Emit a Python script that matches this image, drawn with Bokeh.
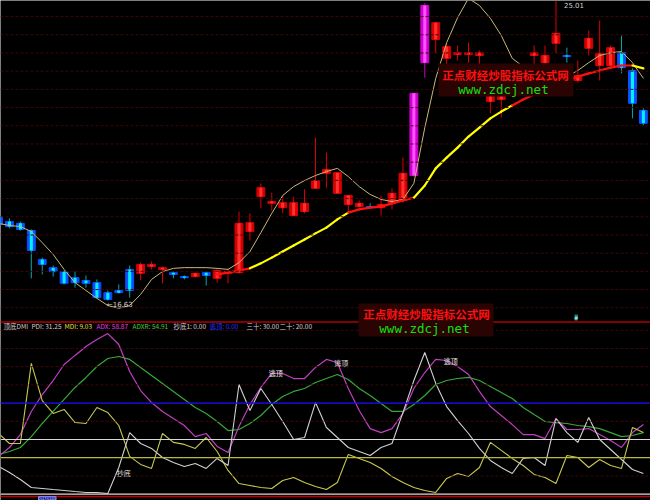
import numpy as np
from bokeh.plotting import figure
from bokeh.models import Range1d, Span, Label, BoxAnnotation
from bokeh.core.properties import value
from bokeh.embed import file_html
from bokeh.resources import INLINE

# ---- daily prices ----
open_ = [18.98, 18.84, 18.79, 18.59, 17.78, 17.55, 17.44, 17.27, 17.19, 17.13,
         16.85, 16.91, 17.50, 17.39, 17.58, 17.50, 17.41, 17.30, 17.30, 17.41,
         17.25, 17.39, 17.41, 18.56, 19.54, 19.35, 19.23, 19.01, 19.12, 19.77,
         20.19, 19.63, 19.32, 19.26, 19.26, 19.23, 19.35, 19.43, 20.13, 23.29,
         23.94, 23.41, 23.52, 23.52, 23.49, 22.20, 22.26, 22.51, 22.79, 23.49,
         23.29, 23.83, 23.49, 22.79, 23.69, 23.21, 23.21, 23.57, 23.07, 21.95]
close_ = [18.76, 18.70, 18.62, 18.03, 17.64, 17.44, 17.11, 17.13, 17.11, 16.71,
          16.66, 16.85, 16.91, 17.64, 17.64, 17.55, 17.36, 17.27, 17.39, 17.33,
          17.47, 17.44, 18.79, 18.81, 19.79, 19.40, 19.37, 19.37, 19.35, 19.99,
          20.30, 20.21, 19.57, 19.35, 19.23, 19.32, 19.63, 20.19, 22.43, 24.89,
          24.41, 23.74, 23.57, 23.57, 23.57, 22.37, 22.37, 22.65, 23.01, 23.57,
          23.49, 24.11, 23.46, 22.93, 23.97, 23.55, 23.71, 23.15, 22.15, 21.59]
high_ = [19.07, 18.93, 18.84, 18.62, 17.83, 17.61, 17.47, 17.44, 17.33, 17.22,
         16.91, 17.08, 17.61, 17.69, 17.72, 17.58, 17.44, 17.33, 17.41, 17.44,
         17.53, 17.53, 19.12, 19.07, 19.91, 19.65, 19.57, 19.54, 19.74, 21.19,
         20.77, 20.21, 19.57, 19.43, 19.35, 19.57, 19.77, 20.63, 22.43, 24.95,
         24.44, 23.83, 23.77, 23.85, 23.63, 22.57, 22.51, 22.79, 23.21, 23.77,
         23.77, 25.01, 23.71, 23.35, 24.19, 24.47, 23.77, 24.05, 23.13, 22.01]
low_ = [18.67, 18.65, 18.59, 17.25, 17.36, 17.30, 17.08, 16.99, 16.99, 16.69,
        16.63, 16.83, 16.71, 17.19, 17.50, 17.11, 17.25, 17.22, 17.27, 17.05,
        17.13, 17.11, 17.39, 18.31, 19.21, 19.15, 19.07, 19.01, 19.07, 19.77,
        19.79, 19.63, 19.09, 19.23, 19.21, 19.01, 19.18, 19.37, 20.10, 22.87,
        23.55, 23.07, 23.35, 23.29, 23.21, 21.87, 21.75, 22.37, 22.65, 23.07,
        23.13, 23.55, 23.29, 22.73, 23.49, 22.79, 23.15, 22.99, 21.73, 21.53]

# fast average (thin line)
ma_fast = [18.79, 18.73, 18.70, 18.56, 18.25, 17.92, 17.50, 17.13, 16.91, 16.69,
           16.49, 16.41, 16.49, 16.80, 17.22, 17.44, 17.53, 17.55, 17.55, 17.55,
           17.53, 17.50, 17.69, 18.00, 18.53, 19.07, 19.57, 19.82, 19.99, 20.13,
           20.24, 20.33, 20.10, 19.82, 19.60, 19.46, 19.40, 19.46, 19.91, 21.47,
           22.85, 23.85, 24.55, 25.09, 24.89, 24.53, 24.05, 23.41, 23.18, 22.96,
           22.85, 22.82, 22.90, 23.07, 23.29, 23.49, 23.57, 23.60, 23.29, 22.85]

nan = float("nan")
# slow average (thick line) and its state (1 = red stretch)
ma_slow = [nan] * 20 + [
    17.36, 17.41, 17.47, 17.53, 17.67, 17.83, 18.00, 18.17, 18.34, 18.51,
    18.67, 18.90, 19.09, 19.18, 19.23, 19.26, 19.35, 19.43, 19.51, 19.85,
    20.33, 20.63, 20.91, 21.22, 21.47, 21.73, 21.92, 22.09, 22.26, 22.40,
    22.54, 22.65, 22.79, 22.90, 22.99, 23.07, 23.15, 23.21, 23.21, 23.13]
slow_hot = [0] * 21 + [1, 1, 1] + [0] * 9 + [1] * 6 + [0] * 9 + [1] * 11 + [0]

# ---- 顶底DMI ----
pdi = [15.2, 11.9, 8.0, 3.6, 3.1, 2.5, 2.0, 1.4, 0.9, 0.9,
       0.3, 14.6, 33.8, 27.8, 25.1, 20.1, 17.4, 15.2, 16.8, 14.1,
       19.6, 15.7, 60.2, 45.9, 58.0, 49.2, 39.9, 30.0, 31.1, 50.3,
       36.6, 31.1, 25.6, 23.4, 21.2, 25.6, 27.8, 44.8, 62.4, 77.8,
       60.8, 48.1, 40.4, 33.3, 25.1, 18.5, 14.6, 11.3, 19.6, 20.1,
       15.7, 41.5, 33.8, 28.4, 42.1, 30.0, 24.5, 19.0, 13.5, 11.3]
mdi = [33.3, 27.8, 27.8, 71.8, 51.4, 44.3, 46.5, 39.3, 38.8, 47.6,
       44.8, 37.7, 20.7, 16.3, 14.1, 33.3, 28.4, 27.3, 25.1, 31.1,
       23.4, 13.0, 5.8, 4.7, 3.6, 3.1, 7.5, 9.1, 6.4, 4.2,
       2.5, 6.4, 21.8, 19.6, 17.4, 14.1, 9.7, 6.4, 3.6, 2.0,
       0.9, 8.6, 11.3, 9.7, 14.6, 28.4, 24.0, 19.6, 15.7, 10.8,
       9.1, 5.8, 21.2, 20.1, 14.6, 19.0, 15.7, 14.1, 36.6, 33.8]
adx = [20.7, 25.6, 32.7, 45.4, 54.7, 62.4, 71.2, 76.2, 81.1, 84.9,
       88.2, 82.2, 67.4, 56.9, 50.3, 45.4, 41.5, 37.7, 31.6, 33.3,
       26.2, 22.9, 37.1, 49.2, 58.6, 66.3, 66.3, 63.5, 63.5, 69.6,
       74.0, 72.3, 58.0, 45.9, 36.0, 33.8, 36.0, 44.3, 58.0, 66.8,
       74.0, 73.4, 70.1, 65.7, 56.4, 48.1, 43.2, 38.2, 32.7, 32.7,
       30.5, 41.5, 35.5, 35.5, 36.0, 32.7, 29.5, 25.6, 33.8, 38.2]
adxr = [21.8, 23.4, 25.6, 31.6, 38.8, 45.4, 52.0, 58.6, 64.1, 70.1,
        74.5, 75.6, 74.0, 69.6, 65.2, 60.8, 56.4, 52.0, 47.6, 44.3,
        39.9, 34.9, 35.5, 38.8, 43.2, 49.2, 53.6, 56.4, 58.0, 61.3,
        63.5, 65.7, 63.0, 58.0, 54.2, 49.8, 45.4, 45.4, 49.2, 54.2,
        60.2, 62.4, 63.5, 64.1, 62.4, 59.1, 55.8, 52.5, 47.6, 43.7,
        39.9, 39.3, 38.8, 37.7, 37.1, 36.0, 33.8, 31.6, 32.2, 33.8]
top_signals = [25, 31, 41]      # 逃顶
bottom_signals = [11]           # 抄底
ref_levels = {"blue": 50, "white": 30, "yellow": 20, "zero": 0}

legend_parts = [
    ("顶底DMI", "#d0d0d0"), ("PDI: 31.25", "#d0d0d0"), ("MDI: 9.03", "#e0e040"),
    ("ADX: 58.87", "#e040e0"), ("ADXR: 54.91", "#40d040"), ("抄底1: 0.00", "#d0d0d0"),
    ("逃顶: 0.00", "#2030ff"), ("三十: 30.00", "#d0d0d0"), ("二十: 20.00", "#d0d0d0"),
]
legend_x = [3, 31, 64, 96, 132, 173, 209, 246, 279]

# ---- figure ----
o = np.array(open_); c = np.array(close_); h = np.array(high_); l = np.array(low_)
idx = np.arange(len(c))
prev = np.concatenate([[o[0]], c[:-1]])
pct = c / prev - 1
kind = np.where(pct >= 0.095, "limit", np.where(c >= o, "up", "down"))
outer = {"up": "#d80000", "down": "#0a50ff", "limit": "#d000d0"}
inner = {"up": "#ff3030", "down": "#00f0ff", "limit": "#ff50ff"}
wick = {"up": "#e00000", "down": "#00a8a8", "limit": "#d000d0"}

p = figure(width=650, height=500, x_range=Range1d(0.18, 59.65),
           y_range=Range1d(11.03, 25.03), x_axis_location=None, y_axis_location=None,
           toolbar_location=None, output_backend="svg", min_border=0,
           background_fill_color="black", border_fill_color="black",
           outline_line_color=None)
p.extra_y_ranges = {"ind": Range1d(-3.52, 271.21)}
p.xgrid.visible = False
p.ygrid.visible = False

grid_col = "#3e0606"
for k in range(17):
    p.add_layout(Span(location=24.58 - 0.5096 * k, dimension="width",
                      line_color=grid_col, line_width=1, line_dash="3 2"))
for v in range(10, 100, 10):
    p.add_layout(Span(location=v, dimension="width", y_range_name="ind",
                      line_color=grid_col, line_width=1, line_dash="3 2"))

# candles
top = np.maximum(o, c); bot = np.minimum(o, c)
p.segment(x0=idx, y0=l, x1=idx, y1=h, color=[wick[k] for k in kind], line_width=1)
p.vbar(x=idx, width=0.72, top=top, bottom=bot,
       fill_color=[outer[k] for k in kind], line_color=[outer[k] for k in kind], line_width=1)
p.vbar(x=idx, width=0.28, top=top, bottom=bot,
       fill_color=[inner[k] for k in kind], line_color=None)

# averages
p.line(idx, ma_fast, color="#c8b878", line_width=1)
ms = np.array(ma_slow)
seg = [i for i in range(1, len(ms)) if not np.isnan(ms[i - 1])]
p.segment(x0=[i - 1 for i in seg], y0=[ms[i - 1] for i in seg], x1=seg, y1=[ms[i] for i in seg],
          color=["#ff1010" if slow_hot[i] else "#ffff00" for i in seg],
          line_width=2.2, line_cap="round")

# extreme price labels
imin = int(np.argmin(l)); imax = int(np.argmax(h))
p.text(x=[imin], y=[l[imin]], text=["←%.2f" % l[imin]], text_color="#d0d0d0",
       text_font=value("DejaVu Sans"), text_font_size="7px", text_align="left",
       text_baseline="middle", x_offset=-1, y_offset=4)
p.text(x=[imax], y=[h[imax]], text=["%.2f" % h[imax]], text_color="#d0d0d0",
       text_font=value("DejaVu Sans"), text_font_size="7px", text_align="left",
       text_baseline="top", x_offset=8, y_offset=1)

# indicator panel
p.add_layout(Span(location=94.6, dimension="width", y_range_name="ind",
                  line_color="#b00000", line_width=1.5))
p.add_layout(Span(location=-1.3, dimension="width", y_range_name="ind",
                  line_color="#c00000", line_width=1.5))
p.add_layout(Span(location=ref_levels["blue"], dimension="width", y_range_name="ind",
                  line_color="#1010ff", line_width=1.2))
p.add_layout(Span(location=ref_levels["white"], dimension="width", y_range_name="ind",
                  line_color="#d8d8d8", line_width=1.2))
p.add_layout(Span(location=ref_levels["yellow"], dimension="width", y_range_name="ind",
                  line_color="#b8b840", line_width=1.2))
p.add_layout(Span(location=ref_levels["zero"], dimension="width", y_range_name="ind",
                  line_color="#d8d8d8", line_width=1.2))

p.line(idx, adxr, y_range_name="ind", color="#38a838", line_width=1.2)
p.line(idx, adx, y_range_name="ind", color="#c040c0", line_width=1.2)
p.line(idx, mdi, y_range_name="ind", color="#c8c850", line_width=1.1)
p.line(idx, pdi, y_range_name="ind", color="#d0d0d0", line_width=1.1)

p.text(x=top_signals, y=[adx[i] for i in top_signals], text=["逃顶"] * len(top_signals),
       y_range_name="ind", text_color="#e8e8e8", text_font=value("Noto Sans CJK SC"),
       text_font_size="7px", text_align="center", text_baseline="middle", x_offset=4)
p.text(x=bottom_signals, y=[pdi[i] for i in bottom_signals], text=["抄底"] * len(bottom_signals),
       y_range_name="ind", text_color="#e8e8e8", text_font=value("Noto Sans CJK SC"),
       text_font_size="7px", text_align="center", text_baseline="middle",
       x_offset=5, y_offset=5)

for (txt, col), x in zip(legend_parts, legend_x):
    p.add_layout(Label(x=x, y=174.5, x_units="screen", y_units="screen", text=txt,
                       text_color=col, text_font="Noto Sans CJK SC", text_font_size="6.5px",
                       text_baseline="middle", text_align="left"))

p.add_layout(Label(x=574, y=180, x_units="screen", y_units="screen", text="#",
                   text_color="#d0ffff", text_font_size="6px",
                   background_fill_color="#1a8080"))
p.add_layout(Label(x=38, y=0, x_units="screen", y_units="screen", text="2017/01/05",
                   text_color="#ffffff", text_font_size="3.5px", text_baseline="bottom",
                   background_fill_color="#000090", border_line_color="#8080ff"))

# site banners
for (bl, br, bb, bt), (cx, ry, gy) in [((438, 573, 404, 437), (505, 426, 411)),
                                         ((358, 493, 164, 197), (426, 186.5, 172))]:
    p.add_layout(BoxAnnotation(left=bl, right=br, bottom=bb, top=bt,
                               left_units="screen", right_units="screen",
                               bottom_units="screen", top_units="screen",
                               fill_color="#2a0303", fill_alpha=1.0, line_color=None))
    p.add_layout(Label(x=cx, y=ry, x_units="screen", y_units="screen",
                       text="正点财经炒股指标公式网", text_color="#ff1010",
                       text_font="Noto Sans CJK SC", text_font_size="11.5px",
                       text_font_style="bold", text_align="center", text_baseline="middle"))
    p.add_layout(Label(x=cx - 2, y=gy, x_units="screen", y_units="screen",
                       text="www.zdcj.net", text_color="#10e010",
                       text_font="DejaVu Sans Mono", text_font_size="12.5px",
                       text_align="center", text_baseline="middle"))

open("out.html", "w").write(file_html(p, INLINE))
